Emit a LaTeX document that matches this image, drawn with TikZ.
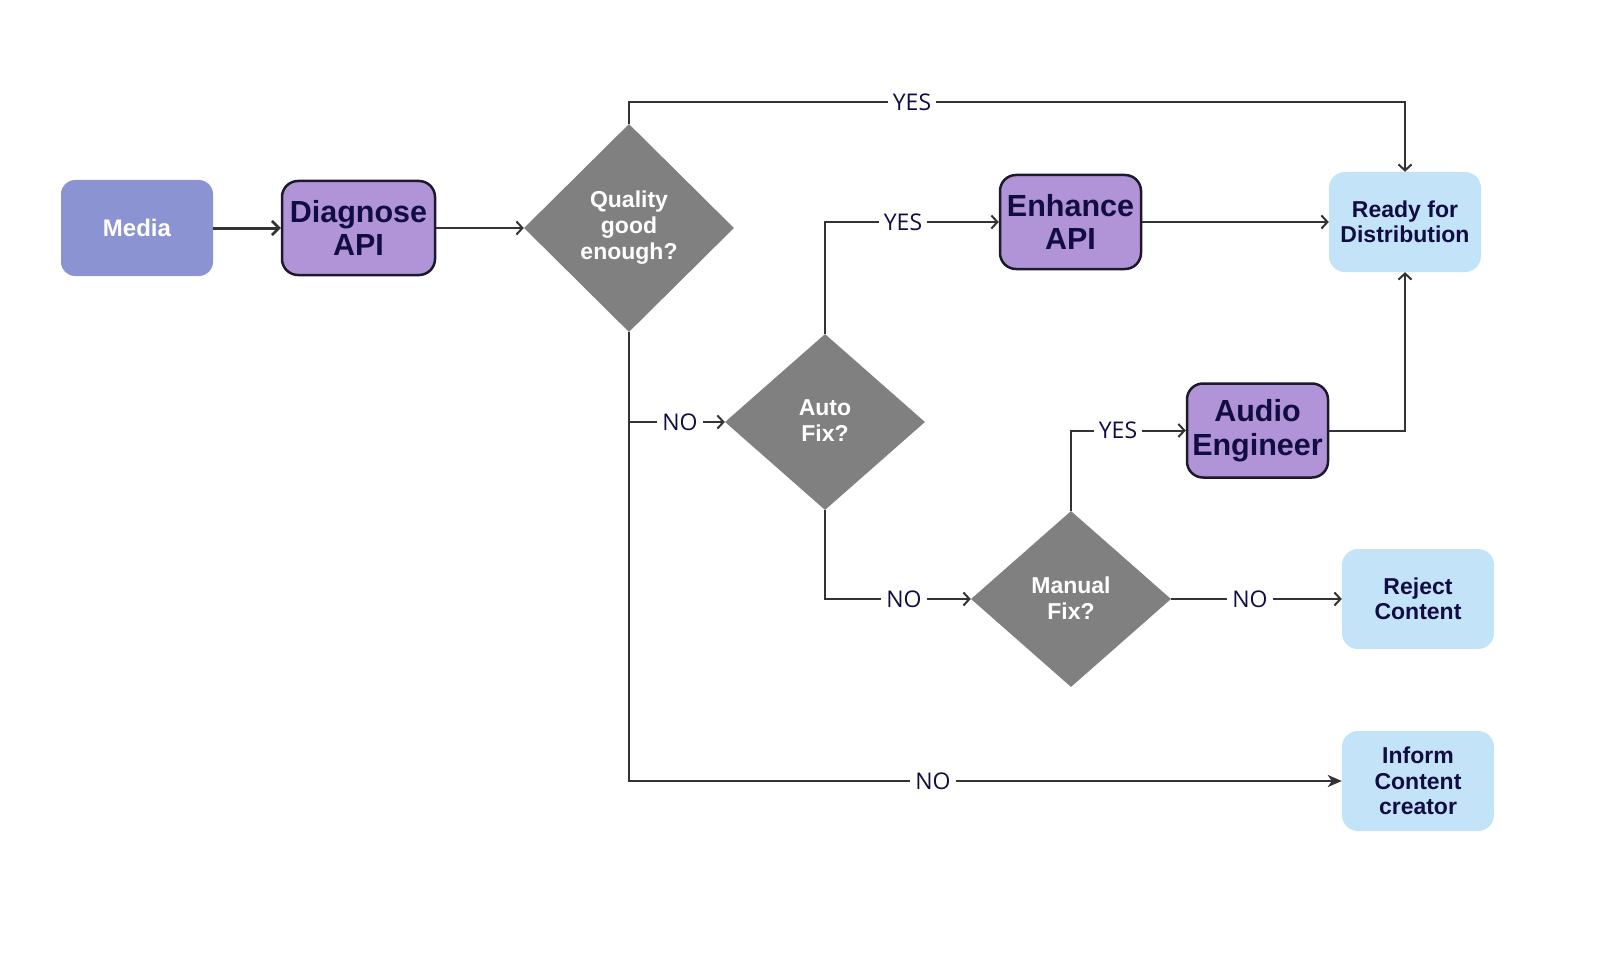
\documentclass[tikz,border=0pt]{standalone}
\usepackage{fontspec}
\setmainfont{Liberation Sans}
\newfontfamily\labelfont{Open Sans}
\usetikzlibrary{shapes.geometric,arrows.meta}
\definecolor{mediafill}{HTML}{8C93D2}
\definecolor{apifill}{HTML}{B194D8}
\definecolor{readyfill}{HTML}{C3E3F9}
\definecolor{diafill}{HTML}{808080}
\definecolor{navy}{HTML}{110D42}
\definecolor{linecol}{HTML}{333333}
\definecolor{apiborder}{HTML}{1C1A2A}
\begin{document}
\begin{tikzpicture}[x=1pt,y=-1pt,
  mediabox/.style={rounded corners=14pt, fill=mediafill, minimum width=152pt, minimum height=96pt,
    inner sep=0pt, align=center, text=white, font=\fontsize{24}{28}\selectfont\bfseries},
  apibox/.style={rounded corners=16pt, fill=apifill, draw=apiborder, line width=2.5pt,
    minimum width=#1, minimum height=94pt, inner sep=0pt, align=center, text=navy,
    font=\fontsize{30.5}{33.5}\selectfont\bfseries},
  endbox/.style={rounded corners=16pt, fill=readyfill, minimum width=152pt, minimum height=100pt,
    inner sep=0pt, align=center, text=navy, font=\fontsize{23}{25.5}\selectfont\bfseries},
  dia/.style={diamond, fill=diafill, inner sep=0pt},
  diatext/.style={align=center, text=white, font=\fontsize{23}{26}\selectfont\bfseries, inner sep=0pt},
  conn/.style={draw=linecol, line width=2pt, -{Straight Barb[length=6pt,width=13pt,line width=2pt]}},
  lbl/.style={fill=white, inner xsep=5pt, inner ysep=3pt, text=navy, font=\labelfont\fontsize{23}{26}\selectfont}
]
\useasboundingbox (0,0) rectangle (1607,971);

% nodes
\node[mediabox] (media) at (137,228) {Media};
\node[apibox=153pt] (diag) at (358.5,228) {Diagnose\\API};
\node[dia, minimum width=210pt, minimum height=208pt] (q) at (629,228) {};
\node[diatext] (qtxt) at (629,228) {Quality\\good\\enough?};
\node[apibox=141pt] (enh) at (1070.5,222) {Enhance\\API};
\node[endbox] (ready) at (1405,222) {Ready for\\Distribution};
\node[dia, minimum width=200pt, minimum height=176pt] (auto) at (825,422) {};
\node[diatext] (autotxt) at (825,421) {Auto\\Fix?};
\node[apibox=141pt] (aud) at (1257.5,430.5) {Audio\\Engineer};
\node[dia, minimum width=200pt, minimum height=176pt] (man) at (1071,599) {};
\node[diatext] (mantxt) at (1071,598) {Manual\\Fix?};
\node[endbox] (rej) at (1418,599) {Reject\\Content};
\node[endbox] (inf) at (1418,781) {Inform\\Content\\creator};

% connectors
\draw[draw=linecol, line width=3pt, -{Straight Barb[length=7pt,width=14pt,line width=2.5pt]}] (media.east) -- (diag.west);
\draw[conn] (diag.east) -- (q.west);
\draw[conn] (q.north) -- ++(0,-22) coordinate (qtop) -| (ready.north);
\draw[draw=linecol, line width=2pt, -{Stealth[length=14pt,width=12pt,inset=4pt]}] (q.south) |- (inf.west);
\coordinate (qbr) at (q.south |- auto.west);
\draw[conn] (qbr) -- (auto.west);
\draw[conn] (auto.north) |- (enh.west);
\draw[conn] (enh.east) -- (ready.west);
\draw[conn] (auto.south) |- (man.west);
\draw[conn] (man.north) |- (aud.west);
\draw[conn] (aud.east) -| (ready.south);
\draw[conn] (man.east) -- (rej.west);

% labels
\node[lbl] (l1) at (912,102) {YES};
\node[lbl] (l2) at (680,422) {NO};
\node[lbl] (l3) at (903,222) {YES};
\node[lbl] (l4) at (904,599) {NO};
\node[lbl] (l5) at (1118,430) {YES};
\node[lbl] (l6) at (1250,599) {NO};
\node[lbl] (l7) at (933,781) {NO};
\end{tikzpicture}
\end{document}
